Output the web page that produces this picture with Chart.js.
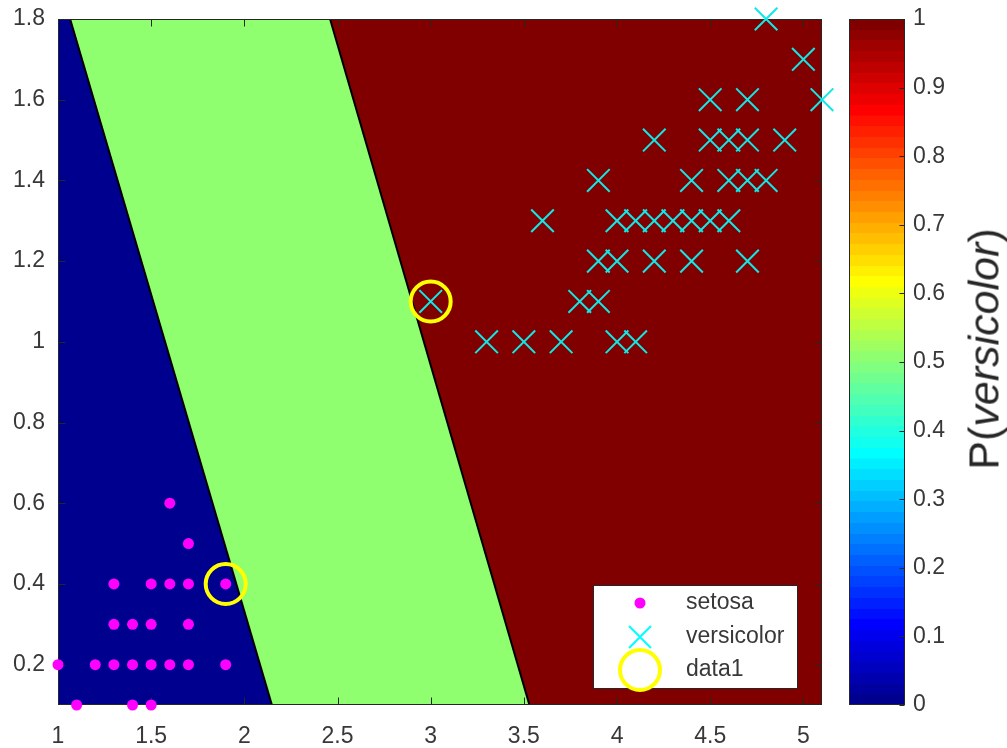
<!DOCTYPE html>
<html lang="en">
<head>
    <meta charset="UTF-8">
    <title>P(versicolor)</title>
    <script src="https://cdn.jsdelivr.net/npm/chart.js@4.4.1/dist/chart.umd.min.js"></script>
    <style>
        body { margin: 0; background: #fff; }
        #wrap { position: relative; width: 1007px; height: 748px; }
        #main { position: absolute; left: 0; top: 0; }
        #cbar { position: absolute; left: 840px; top: 0; }
        /* colorbar label, rotated */
        #cbarTitle {
            position: absolute;
            left: 984px;
            top: 349px;
            transform: translate(-50%, -50%) rotate(-90deg);
            white-space: nowrap;
            font-family: 'Liberation Sans', Arial, sans-serif;
            font-size: 43px;
            color: #262626;
        }
    </style>
</head>
<body>
<div id="wrap">
    <canvas id="main" width="840" height="748"></canvas>
    <canvas id="cbar" width="167" height="748"></canvas>
    <div id="cbarTitle">P(<i>versicolor</i>)</div>
</div>

<script>
    // setosa (petal length, petal width)
    const setosaX = [1.0, 1.1, 1.4, 1.5, 1.2, 1.3, 1.4, 1.5, 1.6, 1.7, 1.9, 1.3, 1.4, 1.5, 1.7, 1.3, 1.5, 1.6, 1.7, 1.9, 1.7, 1.6];
    const setosaY = [0.2, 0.1, 0.1, 0.1, 0.2, 0.2, 0.2, 0.2, 0.2, 0.2, 0.2, 0.3, 0.3, 0.3, 0.3, 0.4, 0.4, 0.4, 0.4, 0.4, 0.5, 0.6];

    // versicolor
    const versiX = [3.3, 3.5, 3.7, 4.0, 4.1,
                    3.0, 3.8, 3.9,
                    3.9, 4.0, 4.2, 4.4, 4.7,
                    3.6, 4.0, 4.1, 4.2, 4.3, 4.4, 4.5, 4.6,
                    3.9, 4.4, 4.6, 4.7, 4.8,
                    4.2, 4.5, 4.6, 4.7, 4.9,
                    4.5, 4.7, 5.1,
                    5.0,
                    4.8];
    const versiY = [1.0, 1.0, 1.0, 1.0, 1.0,
                    1.1, 1.1, 1.1,
                    1.2, 1.2, 1.2, 1.2, 1.2,
                    1.3, 1.3, 1.3, 1.3, 1.3, 1.3, 1.3, 1.3,
                    1.4, 1.4, 1.4, 1.4, 1.4,
                    1.5, 1.5, 1.5, 1.5, 1.5,
                    1.6, 1.6, 1.6,
                    1.7,
                    1.8];

    // circled points (data1)
    const data1X = [1.9, 3.0];
    const data1Y = [0.4, 1.1];

    // decision boundaries: x at top (y=1.8) and bottom (y=0.1)
    const boundY = [1.8, 0.1];
    const boundLoX = [1.065, 2.148];
    const boundHiX = [2.46, 3.53];

    const xRange = [1, 5.1];
    const yRange = [0.1, 1.8];
    const cbarRange = [0, 1];

    const pts = (xs, ys) => xs.map((x, i) => ({ x: x, y: ys[i] }));

    // jet colormap, 64 steps like MATLAB
    function jet(t) {
        const c = v => Math.round(255 * Math.max(0, Math.min(1, v)));
        return 'rgb(' + c(1.5 - Math.abs(4 * t - 3)) + ',' + c(1.5 - Math.abs(4 * t - 2)) + ',' + c(1.5 - Math.abs(4 * t - 1)) + ')';
    }
    const BLUE = jet(1 / 64), GREEN = jet(33 / 64), RED = jet(1);
    const AXIS = '#262626';
    const LABEL = '#383838';
    const FONT = "'Liberation Sans', Arial, sans-serif";

    Chart.defaults.font.family = FONT;
    Chart.defaults.color = LABEL;

    const fmt = v => String(Math.round(v * 100) / 100);

    function drawCross(ctx, x, y, d, color, w) {
        ctx.save();
        ctx.strokeStyle = color;
        ctx.lineWidth = w;
        ctx.beginPath();
        ctx.moveTo(x - d, y - d); ctx.lineTo(x + d, y + d);
        ctx.moveTo(x - d, y + d); ctx.lineTo(x + d, y - d);
        ctx.stroke();
        ctx.restore();
    }

    // box + inward ticks on all four sides, drawn right after the region fills
    const axesBox = {
        id: 'axesBox',
        afterDatasetDraw(chart, args) {
            if (args.meta.label !== 'edgeHi') return;
            const ctx = chart.ctx, a = chart.chartArea;
            const L = Math.round(a.left) + 0.5, R = Math.round(a.right) - 0.5;
            const T = Math.round(a.top) + 0.5, B = Math.round(a.bottom) - 0.5;
            ctx.save();
            ctx.strokeStyle = AXIS;
            ctx.lineWidth = 1;
            ctx.strokeRect(L, T, R - L, B - T);
            ctx.beginPath();
            chart.scales.x.ticks.forEach(t => {
                const px = Math.round(chart.scales.x.getPixelForValue(t.value)) + 0.5;
                ctx.moveTo(px, B); ctx.lineTo(px, B - 7);
                ctx.moveTo(px, T); ctx.lineTo(px, T + 7);
            });
            chart.scales.y.ticks.forEach(t => {
                const py = Math.round(chart.scales.y.getPixelForValue(t.value)) + 0.5;
                ctx.moveTo(L, py); ctx.lineTo(L + 7, py);
                ctx.moveTo(R, py); ctx.lineTo(R - 7, py);
            });
            ctx.stroke();
            ctx.restore();
        }
    };

    // legend box inside the axes, lower right
    const innerLegend = {
        id: 'innerLegend',
        afterDraw(chart) {
            const ctx = chart.ctx, a = chart.chartArea;
            const lx = a.right - 229, ly = a.bottom - 120, w = 204, h = 103;
            ctx.save();
            ctx.fillStyle = '#fff';
            ctx.fillRect(lx, ly, w, h);
            ctx.strokeStyle = AXIS;
            ctx.lineWidth = 1;
            ctx.strokeRect(Math.round(lx) + 0.5, Math.round(ly) + 0.5, w, h);

            const mx = lx + 47, tx = lx + 93;
            const rows = [ly + 18, ly + 52, ly + 85];
            ctx.fillStyle = '#ff00ff';
            ctx.beginPath();
            ctx.arc(mx, rows[0], 5.5, 0, Math.PI * 2);
            ctx.fill();
            drawCross(ctx, mx, rows[1], 11, '#00ffff', 2);
            ctx.strokeStyle = '#ffff00';
            ctx.lineWidth = 4;
            ctx.beginPath();
            ctx.arc(mx, rows[2], 20, 0, Math.PI * 2);
            ctx.stroke();

            ctx.fillStyle = LABEL;
            ctx.font = '23px ' + FONT;
            ctx.textBaseline = 'middle';
            ['setosa', 'versicolor', 'data1'].forEach((s, i) => ctx.fillText(s, tx, rows[i]));
            ctx.restore();
        }
    };

    new Chart(document.getElementById('main'), {
        type: 'scatter',
        data: {
            datasets: [
                {
                    label: 'data1',
                    data: pts(data1X, data1Y),
                    pointStyle: 'circle',
                    pointRadius: 20,
                    hoverRadius: 20,
                    backgroundColor: 'rgba(0,0,0,0)',
                    borderColor: '#ffff00',
                    borderWidth: 4,
                    clip: false,
                    order: 0
                },
                {
                    label: 'versicolor',
                    data: pts(versiX, versiY),
                    pointStyle: 'crossRot',
                    pointRadius: 16,
                    hoverRadius: 16,
                    borderColor: '#11e8e8',
                    borderWidth: 2,
                    clip: false,
                    order: 1
                },
                {
                    label: 'setosa',
                    data: pts(setosaX, setosaY),
                    pointStyle: 'circle',
                    pointRadius: 5.5,
                    hoverRadius: 5.5,
                    backgroundColor: '#ff00ff',
                    borderWidth: 0,
                    clip: false,
                    order: 2
                },
                {
                    label: 'edgeHi',
                    type: 'line',
                    data: pts(boundHiX, boundY),
                    borderColor: '#000',
                    borderWidth: 2,
                    pointRadius: 0,
                    fill: false,
                    order: 3
                },
                {
                    label: 'edgeLo',
                    type: 'line',
                    data: pts(boundLoX, boundY),
                    borderColor: '#000',
                    borderWidth: 2,
                    pointRadius: 0,
                    fill: false,
                    order: 4
                },
                {
                    label: 'red',
                    type: 'line',
                    data: [{ x: boundHiX[0], y: boundY[0] }, { x: boundHiX[1], y: boundY[1] }, { x: xRange[1], y: boundY[1] }],
                    borderWidth: 0,
                    pointRadius: 0,
                    backgroundColor: RED,
                    fill: 'end',
                    order: 5
                },
                {
                    label: 'blue',
                    type: 'line',
                    data: [{ x: xRange[0], y: boundY[0] }, { x: boundLoX[0], y: boundY[0] }, { x: boundLoX[1], y: boundY[1] }],
                    borderWidth: 0,
                    pointRadius: 0,
                    backgroundColor: BLUE,
                    fill: 'start',
                    order: 6
                },
                {
                    label: 'green',
                    type: 'line',
                    data: [{ x: xRange[0], y: yRange[1] }, { x: xRange[1], y: yRange[1] }],
                    borderWidth: 0,
                    pointRadius: 0,
                    backgroundColor: GREEN,
                    fill: 'start',
                    order: 7
                }
            ]
        },
        options: {
            responsive: false,
            animation: false,
            events: [],
            layout: { autoPadding: false, padding: { top: 19, right: 18, left: 0, bottom: 0 } },
            plugins: {
                legend: { display: false },
                tooltip: { enabled: false }
            },
            scales: {
                x: {
                    type: 'linear',
                    min: xRange[0],
                    max: xRange[1],
                    grid: { display: false, drawTicks: false },
                    border: { display: false },
                    ticks: { stepSize: 0.5, includeBounds: false, padding: 18, font: { size: 23 }, color: LABEL, callback: fmt, maxRotation: 0 },
                    afterFit: s => { s.height = 43; s.paddingLeft = 0; s.paddingRight = 0; }
                },
                y: {
                    min: yRange[0],
                    max: yRange[1],
                    grid: { display: false, drawTicks: false },
                    border: { display: false },
                    ticks: { stepSize: 0.2, includeBounds: false, padding: 13, font: { size: 23 }, color: LABEL, callback: fmt },
                    afterFit: s => { s.width = 58; s.paddingTop = 0; s.paddingBottom = 0; }
                }
            }
        },
        plugins: [axesBox, innerLegend]
    });

    // colorbar: one floating bar filled with a stepped jet gradient
    const cbarBox = {
        id: 'cbarBox',
        afterDatasetsDraw(chart) {
            const ctx = chart.ctx, a = chart.chartArea;
            const L = Math.round(a.left) + 0.5, R = Math.round(a.right) - 0.5;
            const T = Math.round(a.top) + 0.5, B = Math.round(a.bottom) - 0.5;
            ctx.save();
            ctx.strokeStyle = AXIS;
            ctx.lineWidth = 1;
            ctx.strokeRect(L, T, R - L, B - T);
            ctx.beginPath();
            chart.scales.y.ticks.forEach(t => {
                const py = Math.round(chart.scales.y.getPixelForValue(t.value)) + 0.5;
                ctx.moveTo(R, py); ctx.lineTo(R - 5, py);
            });
            ctx.stroke();
            ctx.restore();
        }
    };

    function jetGradient(chart) {
        const a = chart.chartArea;
        if (!a) return BLUE;
        const g = chart.ctx.createLinearGradient(0, a.bottom, 0, a.top);
        for (let i = 0; i < 64; i++) {
            const c = jet((i + 1) / 64);
            g.addColorStop(i / 64, c);
            g.addColorStop((i + 1) / 64 - 0.0001, c);
        }
        return g;
    }

    new Chart(document.getElementById('cbar'), {
        type: 'bar',
        data: {
            labels: ['P'],
            datasets: [{
                data: [cbarRange],
                backgroundColor: c => jetGradient(c.chart),
                borderWidth: 0,
                barPercentage: 1,
                categoryPercentage: 1
            }]
        },
        options: {
            responsive: false,
            animation: false,
            events: [],
            layout: { autoPadding: false, padding: { left: 9, top: 19, bottom: 43, right: 42 } },
            plugins: {
                legend: { display: false },
                tooltip: { enabled: false }
            },
            scales: {
                x: { display: false },
                y: {
                    position: 'right',
                    min: cbarRange[0],
                    max: cbarRange[1],
                    grid: { display: false, drawTicks: false },
                    border: { display: false },
                    ticks: { stepSize: 0.1, padding: 8, font: { size: 23 }, color: LABEL, callback: fmt },
                    afterFit: s => { s.width = 60; s.paddingTop = 0; s.paddingBottom = 0; }
                }
            }
        },
        plugins: [cbarBox]
    });
</script>
</body>
</html>
